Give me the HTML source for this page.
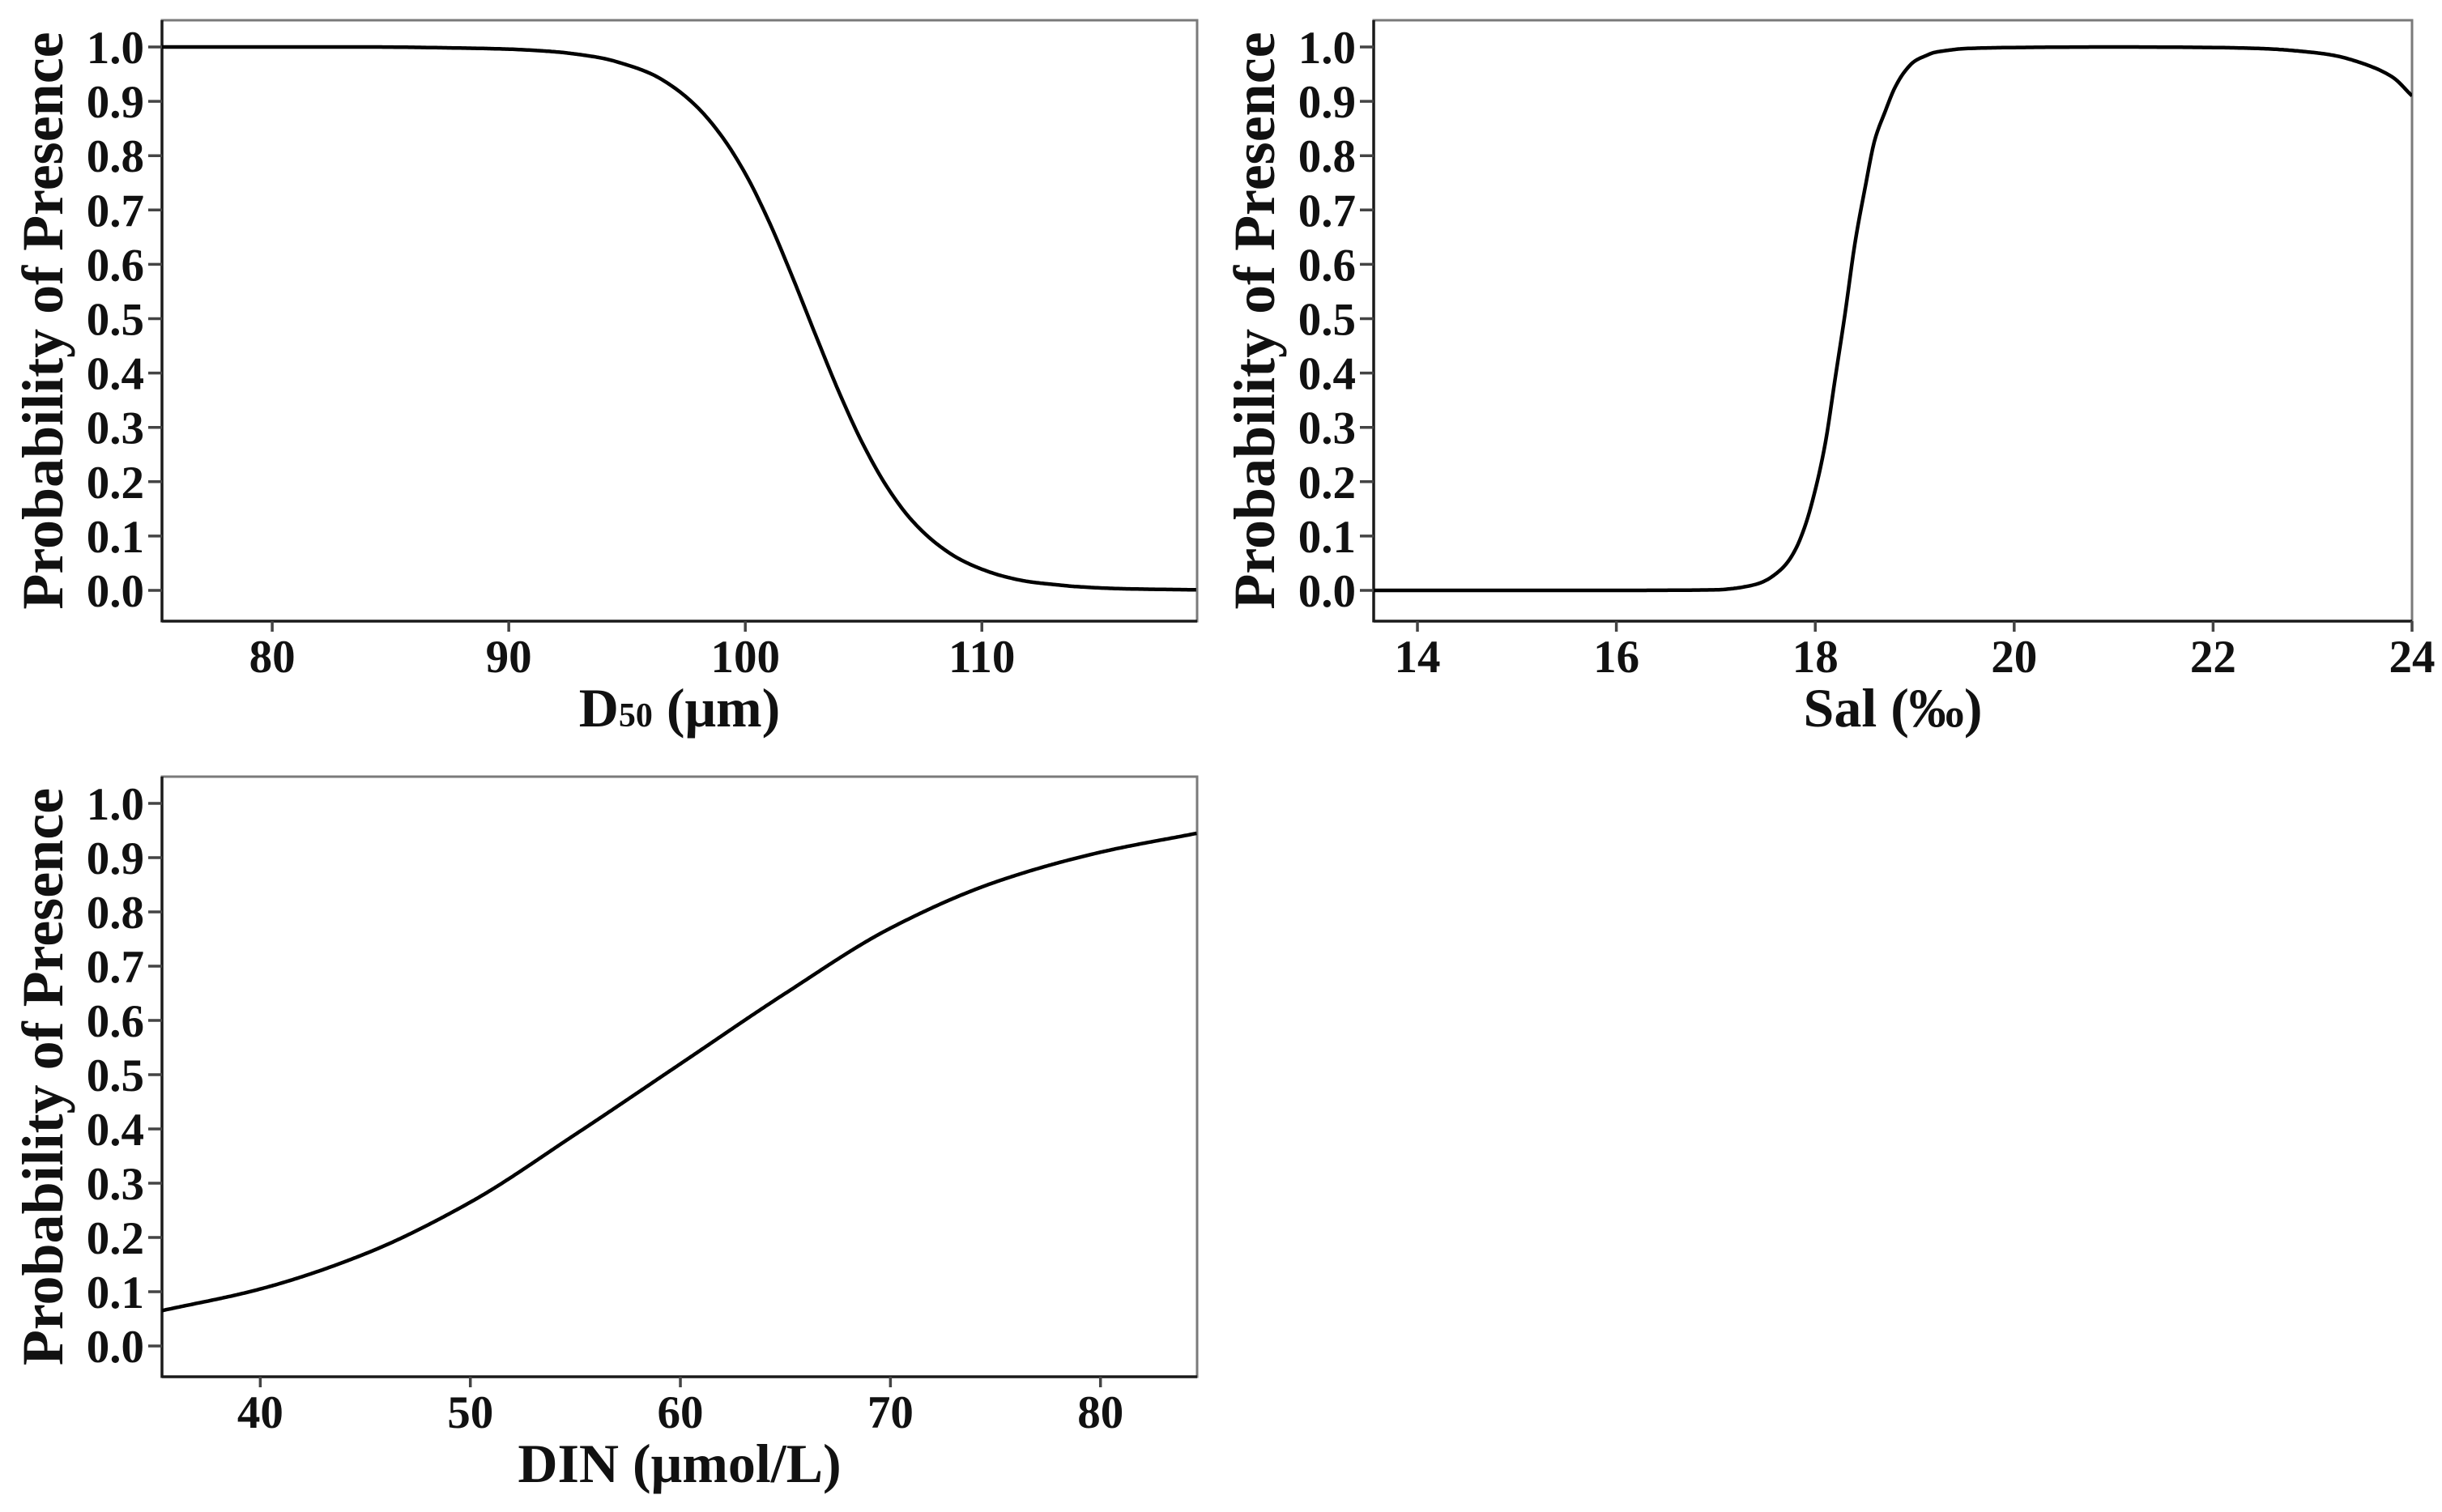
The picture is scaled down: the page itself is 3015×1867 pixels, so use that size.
<!DOCTYPE html>
<html><head><meta charset="utf-8"><style>
html,body{margin:0;padding:0;background:#fff;}
svg{display:block;}
text{font-family:"Liberation Serif",serif;font-weight:bold;fill:#111;}
</style></head><body>
<svg id="fig" width="3015" height="1867" viewBox="0 0 3015 1867" xmlns="http://www.w3.org/2000/svg"></svg>
<script>
// ---- Data ----
const yTicks = [0.0,0.1,0.2,0.3,0.4,0.5,0.6,0.7,0.8,0.9,1.0];
const yTickLabels = ["0.0","0.1","0.2","0.3","0.4","0.5","0.6","0.7","0.8","0.9","1.0"];

const d50X = [75.3,78,80,84,88,90,92,93,94,95,96,97,98,99,100,101,102,103,104,105,106,107,108,109,110,111,112,113,114,116,119.1];
const d50Y = [1.000,1.000,1.000,1.000,0.998,0.996,0.991,0.986,0.979,0.967,0.951,0.925,0.888,0.836,0.767,0.679,0.576,0.467,0.361,0.267,0.190,0.131,0.089,0.059,0.039,0.025,0.016,0.011,0.007,0.003,0.001];
const d50Ticks = [80,90,100,110];

const salX = [13.56,15,16,17,17.2,17.3,17.4,17.5,17.6,17.7,17.8,17.9,18.0,18.1,18.2,18.3,18.4,18.5,18.6,18.7,18.8,18.9,19.0,19.1,19.2,19.3,19.5,20,21,22,22.5,23,23.2,23.5,23.8,24];
const salY = [0.000,0.000,0.000,0.001,0.004,0.007,0.011,0.018,0.030,0.047,0.075,0.12,0.185,0.27,0.39,0.51,0.64,0.74,0.83,0.88,0.925,0.955,0.974,0.983,0.99,0.993,0.997,0.999,1.0,0.999,0.997,0.99,0.985,0.97,0.945,0.91];
const salTicks = [14,16,18,20,22,24];

const dinX = [35.3,40,45,50,55,60,65,70,75,80,84.6];
const dinY = [0.065,0.105,0.17,0.265,0.39,0.52,0.65,0.77,0.855,0.91,0.945];
const dinTicks = [40,50,60,70,80];

const NS = "http://www.w3.org/2000/svg";
const svg = document.getElementById('fig');
function el(tag, attrs, parent){
  const e = document.createElementNS(NS, tag);
  for (const k in attrs) e.setAttribute(k, attrs[k]);
  (parent||svg).appendChild(e);
  return e;
}
// monotone cubic (Fritsch-Carlson) interpolation in data space
function monotone(xv, yv){
  const n = xv.length, d=[], m=[];
  for (let i=0;i<n-1;i++) d.push((yv[i+1]-yv[i])/(xv[i+1]-xv[i]));
  m[0]=d[0]; m[n-1]=d[n-2];
  for (let i=1;i<n-1;i++){
    if (d[i-1]*d[i]<=0) m[i]=0;
    else { const w1=2*(xv[i+1]-xv[i])+(xv[i]-xv[i-1]), w2=(xv[i+1]-xv[i])+2*(xv[i]-xv[i-1]);
      m[i]=(w1+w2)/(w1/d[i-1]+w2/d[i]); }
  }
  return function(x){
    let i=0; while(i<n-2 && x>xv[i+1]) i++;
    const h=xv[i+1]-xv[i], t=(x-xv[i])/h, t2=t*t, t3=t2*t;
    return (2*t3-3*t2+1)*yv[i]+(t3-2*t2+t)*h*m[i]+(-2*t3+3*t2)*yv[i+1]+(t3-t2)*h*m[i+1];
  };
}
function panel(cfg){
  const g = el('g',{});
  
  
  const L=cfg.left,R=cfg.right,T=cfg.top,B=cfg.bottom;
  const xs = v => L + (v-cfg.xmin)/(cfg.xmax-cfg.xmin)*(R-L);
  const xinv = px => cfg.xmin + (px-L)/(R-L)*(cfg.xmax-cfg.xmin);
  const ys = v => cfg.y0 + (cfg.y1-cfg.y0)*v;
  const frame = el('rect',{x:L,y:T,width:R-L,height:B-T,fill:'none',stroke:'#7a7a7a','stroke-width':3},g);
  
  
  const ya = el('line',{x1:L,y1:T,x2:L,y2:B+1.5,stroke:'#1a1a1a','stroke-width':3.5},g);
  
  
  const xa = el('line',{x1:L,y1:B,x2:R,y2:B,stroke:'#1a1a1a','stroke-width':3.5},g);
  
  
  yTicks.forEach((v,i)=>{
    const y = ys(v);
    const t = el('line',{x1:L-17,y1:y,x2:L,y2:y,stroke:'#444','stroke-width':3.5},g);
    
    
    const tx = el('text',{x:L-22,y:y+20,'font-size':57,'text-anchor':'end'},g);
    tx.textContent = yTickLabels[i];
    
    
  });
  cfg.ticks.forEach(v=>{
    const x = xs(v);
    const t = el('line',{x1:x,y1:B,x2:x,y2:B+13,stroke:'#444','stroke-width':3.5},g);
    
    
    const tx = el('text',{x:x,y:B+63,'font-size':57,'text-anchor':'middle'},g);
    tx.textContent = String(v);
    
    
  });
  const yt = el('text',{x:0,y:0,'font-size':72,'text-anchor':'middle',transform:'translate('+(L-123)+','+((T+B)/2)+') rotate(-90)'},g);
  yt.textContent = 'Probability of Presence';
  
  
  const xt = el('text',{x:(L+R)/2,y:B+130,'font-size':68,'text-anchor':'middle'},g);
  xt.innerHTML = cfg.xtitle;
  
  
  const f = monotone(cfg.xv, cfg.yv);
  const x0 = xs(cfg.xv[0]), x1 = xs(cfg.xv[cfg.xv.length-1]);
  let d = "";
  for (let px=x0; px<=x1+0.01; px+=2){
    const pp = Math.min(px,x1);
    d += (d?" L":"M")+pp.toFixed(1)+","+ys(f(xinv(pp))).toFixed(1);
  }
  const cl = el('clipPath',{id:cfg.name+'-clip'},g);
  el('rect',{x:L,y:T,width:R-L,height:B-T},cl);
  const p = el('path',{d:d,fill:'none',stroke:'#000','stroke-width':4.5,'stroke-linejoin':'round','clip-path':'url(#'+cfg.name+'-clip)'},g);
  
  
}
panel({name:'panel-d50',left:200,right:1478,top:25,bottom:767,y0:729,y1:58,xmin:75.34,xmax:119.1,ticks:d50Ticks,xv:d50X,yv:d50Y,
  xtitle:'D<tspan font-size="42">50</tspan> (μm)'});
panel({name:'panel-sal',left:1696,right:2978,top:25,bottom:767,y0:729,y1:58,xmin:13.56,xmax:24,ticks:salTicks,xv:salX,yv:salY,
  xtitle:'Sal (‰)'});
panel({name:'panel-din',left:200,right:1478,top:959,bottom:1700,y0:1662,y1:992,xmin:35.32,xmax:84.6,ticks:dinTicks,xv:dinX,yv:dinY,
  xtitle:'DIN (μmol/L)'});
</script>
</body></html>
